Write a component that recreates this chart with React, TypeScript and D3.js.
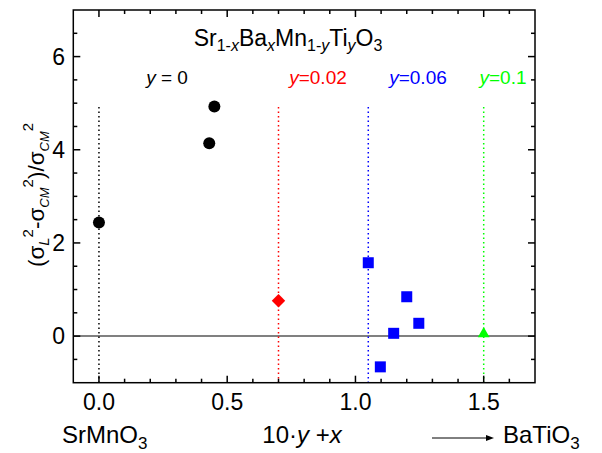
import React from 'react';
import * as d3 from 'd3';

// data
const y0X = [0, 0.43, 0.45];
const y0Y = [2.44, 4.14, 4.93];
const y002X = [0.7];
const y002Y = [0.76];
const y006X = [1.05, 1.2, 1.247, 1.149, 1.097];
const y006Y = [1.575, 0.845, 0.275, 0.06, -0.66];
const y01X = [1.5];
const y01Y = [0.05];
const guideX = [0, 0.7, 1.05, 1.5];
const guideColors = ['#000000', '#ff0000', '#0000ff', '#00ff00'];
const guideTop = 4.92;
const guideLabels = ['= 0', '=0.02', '=0.06', '=0.1'];
const guideLabelX = [167, 318, 418, 503];
const xTicks = [0, 0.5, 1.0, 1.5];
const xTickLabels = ['0.0', '0.5', '1.0', '1.5'];
const yTicks = [0, 2, 4, 6];
const yTickLabels = ['0', '2', '4', '6'];

const FONT = '"Liberation Sans", Arial, Helvetica, sans-serif';

export default function App() {
  const W = 602, H = 453;
  const L = 73.3, R = 535, T = 10, B = 382.7;
  const x = d3.scaleLinear().domain([-0.1, 1.7]).range([L, R]);
  const y = d3.scaleLinear().domain([-1, 7]).range([B, T]);

  const xMinor = d3.range(0, 17).map(i => i / 10).filter(v => !xTicks.some(t => Math.abs(t - v) < 1e-6));
  const yMinor = d3.range(-1, 14).map(i => i / 2).filter(v => v > -1 && v < 7 && !yTicks.some(t => Math.abs(t - v) < 1e-6));

  const diamond = d3.symbol().type(d3.symbolDiamond2).size(115)();
  const tri = d3.symbol().type(d3.symbolTriangle).size(60)();

  const major = 7, minor = 4;
  const sw = 1.5;

  return (
    <svg width={W} height={H} style={{ position: 'absolute', left: 0, top: 0, background: '#fff' }} fontFamily={FONT}>
      <rect x={0} y={0} width={W} height={H} fill="#fff" />
      {/* zero line */}
      <line x1={L} x2={R} y1={y(0)} y2={y(0)} stroke="#808080" strokeWidth={2} />
      {/* guide lines */}
      {guideX.map((g, i) => (
        <line key={'g' + i} x1={x(g)} x2={x(g)} y1={y(guideTop)} y2={B} stroke={guideColors[i]} strokeWidth={1.5} strokeDasharray="1.5 3" />
      ))}
      {/* guide labels */}
      {guideLabels.map((s, i) => (
        <text key={'gl' + i} x={guideLabelX[i]} y={84} fontSize={19} textAnchor="middle" fill={guideColors[i]}>
          <tspan fontStyle="italic">y</tspan>{i === 0 ? ' ' : ''}{s}
        </text>
      ))}
      {/* data */}
      {y0X.map((v, i) => (
        <circle key={'c' + i} cx={x(v)} cy={y(y0Y[i])} r={6} fill="#000" />
      ))}
      {y002X.map((v, i) => (
        <path key={'d' + i} d={diamond} transform={`translate(${x(v)},${y(y002Y[i])})`} fill="#ff0000" />
      ))}
      {y006X.map((v, i) => (
        <rect key={'s' + i} x={x(v) - 5.5} y={y(y006Y[i]) - 5.5} width={11} height={11} fill="#0000ff" />
      ))}
      {y01X.map((v, i) => (
        <path key={'t' + i} d={tri} transform={`translate(${x(v)},${y(y01Y[i])})`} fill="#00ff00" />
      ))}
      {/* frame */}
      <rect x={L} y={T} width={R - L} height={B - T} fill="none" stroke="#000" strokeWidth={sw} />
      {/* ticks */}
      {xTicks.map((t, i) => (
        <g key={'xt' + i}>
          <line x1={x(t)} x2={x(t)} y1={B} y2={B - major} stroke="#000" strokeWidth={sw} />
          <line x1={x(t)} x2={x(t)} y1={T} y2={T + major} stroke="#000" strokeWidth={sw} />
          <text x={x(t)} y={410} fontSize={23} textAnchor="middle">{xTickLabels[i]}</text>
        </g>
      ))}
      {xMinor.map((t, i) => (
        <g key={'xm' + i}>
          <line x1={x(t)} x2={x(t)} y1={B} y2={B - minor} stroke="#000" strokeWidth={sw} />
          <line x1={x(t)} x2={x(t)} y1={T} y2={T + minor} stroke="#000" strokeWidth={sw} />
        </g>
      ))}
      {yTicks.map((t, i) => (
        <g key={'yt' + i}>
          <line x1={L} x2={L + major} y1={y(t)} y2={y(t)} stroke="#000" strokeWidth={sw} />
          <line x1={R} x2={R - major} y1={y(t)} y2={y(t)} stroke="#000" strokeWidth={sw} />
          <text x={65} y={y(t) + 8} fontSize={23} textAnchor="end">{yTickLabels[i]}</text>
        </g>
      ))}
      {yMinor.map((t, i) => (
        <g key={'ym' + i}>
          <line x1={L} x2={L + minor} y1={y(t)} y2={y(t)} stroke="#000" strokeWidth={sw} />
          <line x1={R} x2={R - minor} y1={y(t)} y2={y(t)} stroke="#000" strokeWidth={sw} />
        </g>
      ))}
      {/* title */}
      <text x={288} y={46} fontSize={23} textAnchor="middle">
        Sr<tspan fontSize={16} dy={5}>1-<tspan fontStyle="italic">x</tspan></tspan>
        <tspan dy={-5}>Ba</tspan><tspan fontSize={16} dy={5} fontStyle="italic">x</tspan>
        <tspan dy={-5}>Mn</tspan><tspan fontSize={16} dy={5}>1-<tspan fontStyle="italic">y</tspan></tspan>
        <tspan dy={-5}>Ti</tspan><tspan fontSize={16} dy={5} fontStyle="italic">y</tspan>
        <tspan dy={-5}>O</tspan><tspan fontSize={16} dy={5}>3</tspan>
      </text>
      {/* y axis label */}
      <text transform="translate(44,195) rotate(-90)" fontSize={22.5} textAnchor="middle">
        (σ<tspan fontSize={15} dy={5} fontStyle="italic">L</tspan>
        <tspan fontSize={15} dy={-16}>2</tspan>
        <tspan dy={11}>-σ</tspan>
        <tspan fontSize={13} dy={5} fontStyle="italic">CM</tspan>
        <tspan fontSize={15} dy={-16}>2</tspan>
        <tspan dy={11}>)/σ</tspan>
        <tspan fontSize={13} dy={5} fontStyle="italic">CM</tspan>
        <tspan fontSize={15} dy={-16}>2</tspan>
      </text>
      {/* bottom labels */}
      <text x={62} y={443} fontSize={24}>
        SrMnO<tspan fontSize={17} dy={6}>3</tspan>
      </text>
      <text x={302} y={443} fontSize={24} textAnchor="middle">
        10·<tspan fontStyle="italic">y</tspan> +<tspan fontStyle="italic">x</tspan>
      </text>
      <line x1={432} x2={488} y1={438} y2={438} stroke="#000" strokeWidth={1} />
      <path d="M494,438 L486,435 L486,441 Z" fill="#000" />
      <text x={503} y={443} fontSize={24}>
        BaTiO<tspan fontSize={17} dy={6}>3</tspan>
      </text>
    </svg>
  );
}
